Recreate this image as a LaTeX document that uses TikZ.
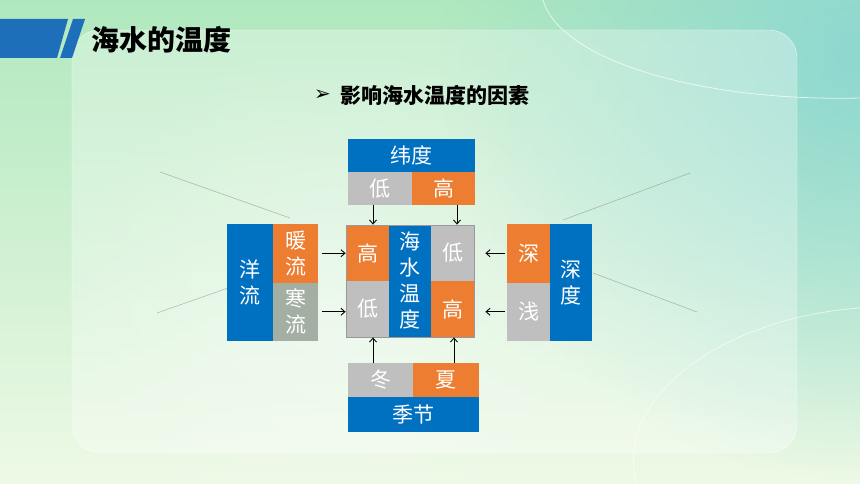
\documentclass[tikz,border=0pt]{standalone}
\usepackage{fontspec}
\setmainfont{Noto Sans CJK SC}
\newfontfamily\symfont{DejaVu Sans}
\usepackage{xcolor}
\usepackage{tikz}
\usetikzlibrary{positioning,fit,backgrounds,fadings,arrows.meta}

\definecolor{boxblue}{HTML}{0070C0}
\definecolor{boxorange}{HTML}{ED7D31}
\definecolor{boxgray}{HTML}{BFBFBF}
\definecolor{boxsage}{HTML}{A4AFA4}
\definecolor{bannerblue}{HTML}{1E6FBA}
\definecolor{bgtop}{HTML}{B0E8BE}
\definecolor{bgbottom}{HTML}{EEF9E6}
\definecolor{bgcyan}{HTML}{8AD6D2}
\tikzfading[name=glow, inner color=transparent!0, outer color=transparent!100]

\begin{document}
\begin{tikzpicture}[
    x=1pt, y=-1pt,
    cell/.style={rectangle, inner sep=0pt, outer sep=0pt, text=white, align=center, font=\fontsize{21}{26}\selectfont},
    blue cell/.style={cell, fill=boxblue},
    orange cell/.style={cell, fill=boxorange},
    gray cell/.style={cell, fill=boxgray},
    sage cell/.style={cell, fill=boxsage},
    link/.style={-{Straight Barb[length=4pt, width=7pt]}, line width=0.9pt, black},
    deco/.style={gray, line width=0.6pt, opacity=0.5}
]

% Background
\useasboundingbox (0,0) rectangle (860,484);
\shade[top color=bgtop, bottom color=bgbottom] (0,0) rectangle (860,484);
\fill[bgcyan, path fading=glow, fill opacity=0.9] (860,60) circle (420pt);
\fill[white, path fading=glow, fill opacity=0.35] (330,300) circle (260pt);
\draw[white, opacity=0.7, line width=0.8pt] (543,0) .. controls (560,60) and (700,102) .. (860,98);
\draw[white, opacity=0.6, line width=0.8pt] (637,484) .. controls (612,400) and (720,318) .. (860,308);
\fill[white, fill opacity=0.3, rounded corners=28pt] (72,30) rectangle (797,453);
\draw[white, opacity=0.8, rounded corners=28pt] (72,30) rectangle (797,453);

% Title banner
\fill[bannerblue] (0,19) -- (68,19) -- (57,58) -- (0,58) -- cycle;
\fill[bannerblue] (73,19) -- (85,19) -- (72,58) -- (60,58) -- cycle;
\node[anchor=west, inner sep=0pt, font=\fontsize{28}{30}\selectfont\bfseries] (title) at (91,40) {海水的温度};
\node[anchor=west, inner sep=0pt, font=\fontsize{21}{24}\selectfont\bfseries] (subtitle) at (340,95) {影响海水温度的因素};
\node[left=9pt of subtitle, inner sep=0pt, font=\symfont\fontsize{20}{22}\selectfont] (bullet) {➢};

% Decorative lines
\draw[deco] (160,172) -- (290,218);
\draw[deco] (157,313) -- (228,288);
\draw[deco] (563,220) -- (690,173);
\draw[deco] (593,273) -- (697,312);

% Centre
\node[blue cell, minimum width=42pt, minimum height=112pt] (coremid) at (410,281) {海\\水\\温\\度};
\node[orange cell, minimum width=43pt, minimum height=56pt, anchor=north east] (coretl) at (coremid.north west) {高};
\node[gray cell, minimum width=43pt, minimum height=56pt, below=0pt of coretl] (corebl) {低};
\node[gray cell, minimum width=43pt, minimum height=56pt, anchor=north west] (coretr) at (coremid.north east) {低};
\node[orange cell, minimum width=43pt, minimum height=56pt, below=0pt of coretr] (corebr) {高};
\node[draw=gray!80, line width=0.8pt, inner sep=0pt, fit=(coretl)(corebr)] (core) {};

% Latitude
\node[blue cell, minimum width=127pt, minimum height=33pt] (latitude) at (411.5,155.5) {纬度};
\node[gray cell, minimum width=64pt, minimum height=33pt, anchor=north west] (latlow) at (latitude.south west) {低};
\node[orange cell, minimum width=63pt, minimum height=33pt, anchor=north east] (lathigh) at (latitude.south east) {高};

% Ocean currents
\node[blue cell, minimum width=46pt, minimum height=117pt] (current) at (250,282.5) {洋\\流};
\node[orange cell, minimum width=45pt, minimum height=58.5pt, anchor=north west] (warm) at (current.north east) {暖\\流};
\node[sage cell, minimum width=45pt, minimum height=58.5pt, below=0pt of warm] (cold) {寒\\流};

% Depth
\node[blue cell, minimum width=42pt, minimum height=117pt] (depth) at (571,282.5) {深\\度};
\node[orange cell, minimum width=43pt, minimum height=58.5pt, anchor=north east] (deep) at (depth.north west) {深};
\node[gray cell, minimum width=43pt, minimum height=58.5pt, below=0pt of deep] (shallow) {浅};

% Season
\node[blue cell, minimum width=131pt, minimum height=35pt] (season) at (413.5,414.5) {季节};
\node[gray cell, minimum width=65pt, minimum height=34pt, anchor=south west] (winter) at (season.north west) {冬};
\node[orange cell, minimum width=66pt, minimum height=34pt, anchor=south east] (summer) at (season.north east) {夏};

% Arrows
\coordinate[right=11pt of core.east] (coretip);
\draw[link] ([xshift=-7pt]latlow.south) -- ([xshift=-7pt]latlow.south |- core.north);
\draw[link] ([xshift=13.5pt]lathigh.south) -- ([xshift=13.5pt]lathigh.south |- core.north);
\draw[link] ([xshift=-7.5pt]winter.north) -- ([xshift=-7.5pt]winter.north |- core.south);
\draw[link] ([xshift=8pt]summer.north) -- ([xshift=8pt]summer.north |- core.south);
\draw[link] ([xshift=4pt]warm.east) -- (warm.east -| core.west);
\draw[link] ([xshift=4pt]cold.east) -- (cold.east -| core.west);
\draw[link] ([xshift=-2pt]deep.west) -- (deep.west -| coretip);
\draw[link] ([xshift=-2pt]shallow.west) -- (shallow.west -| coretip);

\end{tikzpicture}
\end{document}
